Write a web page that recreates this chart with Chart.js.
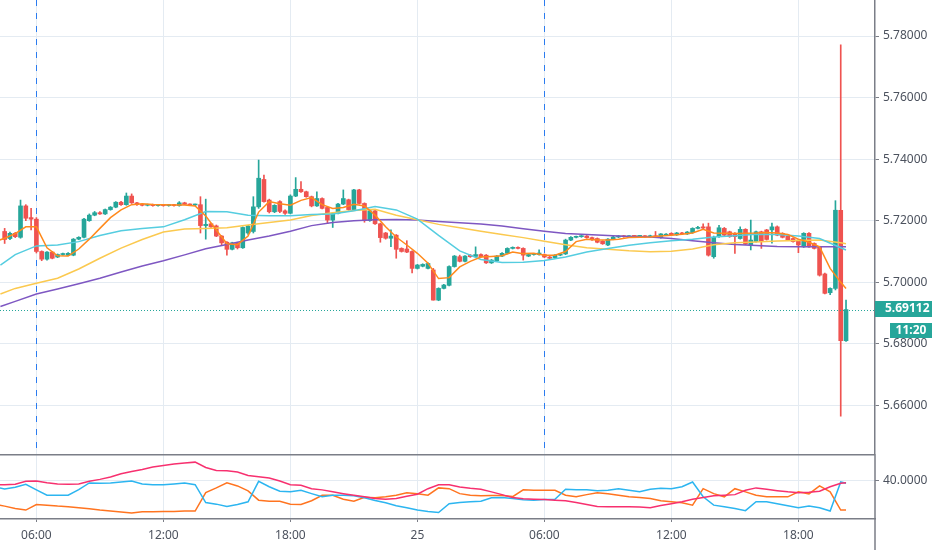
<!DOCTYPE html>
<html>
<head>
<meta charset="utf-8">
<script src="https://cdn.jsdelivr.net/npm/chart.js@4.4.1/dist/chart.umd.min.js"></script>
<style>
  html, body { margin: 0; padding: 0; background: #ffffff; }
  #wrap { position: relative; width: 932px; height: 550px; overflow: hidden; }
  #pricePane { position: absolute; left: 0; top: 0; width: 932px; height: 454px; }
  #oscPane { position: absolute; left: 0; top: 454px; width: 932px; height: 96px; }
</style>
</head>
<body>
<div id="wrap">
  <div id="pricePane"><canvas id="priceChart"></canvas></div>
  <div id="oscPane"><canvas id="oscChart"></canvas></div>
</div>
<script>
// 15 minute candles, hours counted from 00:00 of the 24th, first candle opens 04:30
const firstCandleHour = 4.5;
const candleStep = 0.25;

const candleOpen = [
  5.7165, 5.7142, 5.7159, 5.7146, 5.7248, 5.7210, 5.7205, 5.7100, 5.7075, 5.7098,
  5.7082, 5.7090, 5.7088, 5.7088, 5.7140, 5.7146, 5.7200, 5.7218, 5.7226, 5.7222,
  5.7236, 5.7244, 5.7260, 5.7252, 5.7280, 5.7258, 5.7253, 5.7250, 5.7252, 5.7249,
  5.7251, 5.7249, 5.7251, 5.7249, 5.7258, 5.7253, 5.7251, 5.7252, 5.7184, 5.7190,
  5.7183, 5.7150, 5.7130, 5.7107, 5.7128, 5.7112, 5.7160, 5.7165, 5.7245, 5.7334,
  5.7267, 5.7229, 5.7262, 5.7232, 5.7224, 5.7280, 5.7302, 5.7294, 5.7278, 5.7248,
  5.7272, 5.7243, 5.7202, 5.7224, 5.7254, 5.7268, 5.7236, 5.7300, 5.7256, 5.7200,
  5.7232, 5.7190, 5.7160, 5.7143, 5.7153, 5.7110, 5.7108, 5.7100, 5.7045, 5.7052,
  5.7045, 5.7040, 5.6942, 5.6980, 5.6990, 5.7051, 5.7083, 5.7068, 5.7088, 5.7084,
  5.7090, 5.7088, 5.7063, 5.7070, 5.7085, 5.7094, 5.7110, 5.7113, 5.7110, 5.7085,
  5.7090, 5.7090, 5.7090, 5.7082, 5.7080, 5.7088, 5.7092, 5.7137, 5.7146, 5.7148,
  5.7150, 5.7145, 5.7142, 5.7133, 5.7121, 5.7140, 5.7147, 5.7150, 5.7148, 5.7150,
  5.7149, 5.7150, 5.7148, 5.7151, 5.7145, 5.7153, 5.7159, 5.7154, 5.7160, 5.7157,
  5.7161, 5.7175, 5.7180, 5.7180, 5.7083, 5.7148, 5.7175, 5.7164, 5.7159, 5.7142,
  5.7172, 5.7121, 5.7132, 5.7164, 5.7170, 5.7170, 5.7180, 5.7159, 5.7150, 5.7142,
  5.7137, 5.7115, 5.7159, 5.7126, 5.7115, 5.7027, 5.6966, 5.6980, 5.7234, 5.6810
];
const candleHigh = [
  5.7175, 5.7163, 5.7162, 5.7267, 5.7252, 5.7240, 5.7210, 5.7102, 5.7100, 5.7100,
  5.7092, 5.7095, 5.7096, 5.7142, 5.7148, 5.7208, 5.7222, 5.7230, 5.7230, 5.7238,
  5.7246, 5.7262, 5.7263, 5.7290, 5.7287, 5.7260, 5.7255, 5.7254, 5.7254, 5.7253,
  5.7253, 5.7253, 5.7253, 5.7262, 5.7260, 5.7255, 5.7254, 5.7278, 5.7270, 5.7192,
  5.7186, 5.7152, 5.7132, 5.7130, 5.7130, 5.7180, 5.7185, 5.7278, 5.7397, 5.7348,
  5.7270, 5.7252, 5.7265, 5.7235, 5.7284, 5.7340, 5.7327, 5.7296, 5.7280, 5.7294,
  5.7274, 5.7245, 5.7226, 5.7256, 5.7300, 5.7270, 5.7302, 5.7302, 5.7258, 5.7234,
  5.7234, 5.7192, 5.7162, 5.7170, 5.7155, 5.7112, 5.7135, 5.7102, 5.7058, 5.7060,
  5.7063, 5.7045, 5.6982, 5.6993, 5.7053, 5.7087, 5.7088, 5.7087, 5.7090, 5.7115,
  5.7092, 5.7090, 5.7074, 5.7087, 5.7096, 5.7112, 5.7115, 5.7115, 5.7112, 5.7092,
  5.7094, 5.7105, 5.7092, 5.7084, 5.7090, 5.7094, 5.7140, 5.7148, 5.7150, 5.7152,
  5.7152, 5.7147, 5.7144, 5.7135, 5.7142, 5.7149, 5.7152, 5.7152, 5.7152, 5.7152,
  5.7152, 5.7152, 5.7153, 5.7165, 5.7158, 5.7158, 5.7161, 5.7162, 5.7162, 5.7165,
  5.7177, 5.7182, 5.7190, 5.7192, 5.7150, 5.7185, 5.7178, 5.7166, 5.7161, 5.7180,
  5.7174, 5.7202, 5.7166, 5.7166, 5.7172, 5.7192, 5.7183, 5.7161, 5.7152, 5.7144,
  5.7139, 5.7161, 5.7161, 5.7128, 5.7117, 5.7030, 5.6982, 5.7265, 5.7771, 5.6942
];
const candleLow = [
  5.7126, 5.7138, 5.7145, 5.7143, 5.7200, 5.7170, 5.7095, 5.7070, 5.7072, 5.7076,
  5.7080, 5.7088, 5.7086, 5.7086, 5.7138, 5.7144, 5.7198, 5.7216, 5.7220, 5.7220,
  5.7234, 5.7242, 5.7250, 5.7250, 5.7256, 5.7250, 5.7248, 5.7248, 5.7247, 5.7247,
  5.7247, 5.7247, 5.7247, 5.7247, 5.7252, 5.7250, 5.7249, 5.7160, 5.7140, 5.7178,
  5.7148, 5.7122, 5.7088, 5.7105, 5.7108, 5.7110, 5.7155, 5.7160, 5.7240, 5.7260,
  5.7225, 5.7226, 5.7226, 5.7220, 5.7222, 5.7278, 5.7292, 5.7276, 5.7245, 5.7246,
  5.7238, 5.7191, 5.7178, 5.7222, 5.7252, 5.7234, 5.7234, 5.7254, 5.7195, 5.7198,
  5.7188, 5.7130, 5.7140, 5.7116, 5.7078, 5.7098, 5.7096, 5.7030, 5.7043, 5.7050,
  5.7043, 5.6942, 5.6940, 5.6978, 5.6988, 5.7049, 5.7066, 5.7066, 5.7081, 5.7082,
  5.7081, 5.7061, 5.7061, 5.7068, 5.7083, 5.7092, 5.7108, 5.7108, 5.7072, 5.7083,
  5.7088, 5.7088, 5.7080, 5.7076, 5.7078, 5.7086, 5.7090, 5.7135, 5.7144, 5.7146,
  5.7143, 5.7136, 5.7128, 5.7123, 5.7119, 5.7138, 5.7145, 5.7146, 5.7146, 5.7147,
  5.7147, 5.7146, 5.7146, 5.7146, 5.7143, 5.7151, 5.7152, 5.7152, 5.7155, 5.7155,
  5.7159, 5.7173, 5.7174, 5.7085, 5.7078, 5.7146, 5.7150, 5.7146, 5.7094, 5.7140,
  5.7122, 5.7105, 5.7130, 5.7110, 5.7137, 5.7127, 5.7151, 5.7144, 5.7135, 5.7130,
  5.7096, 5.7113, 5.7113, 5.7108, 5.7020, 5.6962, 5.6960, 5.6975, 5.6565, 5.6808
];
const candleClose = [
  5.7139, 5.7159, 5.7148, 5.7248, 5.7208, 5.7205, 5.7100, 5.7075, 5.7098, 5.7078,
  5.7090, 5.7093, 5.7094, 5.7140, 5.7146, 5.7205, 5.7218, 5.7226, 5.7222, 5.7236,
  5.7244, 5.7260, 5.7252, 5.7280, 5.7258, 5.7252, 5.7250, 5.7252, 5.7249, 5.7251,
  5.7249, 5.7251, 5.7249, 5.7258, 5.7253, 5.7251, 5.7252, 5.7184, 5.7188, 5.7180,
  5.7150, 5.7128, 5.7107, 5.7128, 5.7112, 5.7178, 5.7183, 5.7245, 5.7338, 5.7262,
  5.7229, 5.7250, 5.7230, 5.7224, 5.7280, 5.7302, 5.7294, 5.7278, 5.7248, 5.7272,
  5.7240, 5.7202, 5.7224, 5.7254, 5.7272, 5.7236, 5.7300, 5.7256, 5.7200, 5.7232,
  5.7190, 5.7145, 5.7143, 5.7150, 5.7107, 5.7100, 5.7098, 5.7045, 5.7056, 5.7058,
  5.7061, 5.6942, 5.6980, 5.6991, 5.7051, 5.7085, 5.7068, 5.7085, 5.7083, 5.7090,
  5.7083, 5.7063, 5.7072, 5.7085, 5.7094, 5.7110, 5.7113, 5.7110, 5.7088, 5.7090,
  5.7092, 5.7095, 5.7082, 5.7078, 5.7088, 5.7092, 5.7137, 5.7146, 5.7148, 5.7150,
  5.7145, 5.7138, 5.7130, 5.7125, 5.7140, 5.7147, 5.7150, 5.7148, 5.7150, 5.7149,
  5.7150, 5.7148, 5.7151, 5.7148, 5.7157, 5.7156, 5.7154, 5.7160, 5.7157, 5.7163,
  5.7175, 5.7178, 5.7176, 5.7088, 5.7146, 5.7177, 5.7153, 5.7148, 5.7148, 5.7172,
  5.7124, 5.7137, 5.7164, 5.7132, 5.7139, 5.7180, 5.7153, 5.7146, 5.7137, 5.7132,
  5.7121, 5.7159, 5.7115, 5.7110, 5.7023, 5.6964, 5.6980, 5.7234, 5.6810, 5.69112
];

// moving averages
const slowHours = [4.3, 5, 6, 7, 8, 9, 10, 11, 12, 13, 14, 15, 16, 17, 18, 19, 20, 21, 22, 23,
  24, 25, 26, 27, 28, 29, 30, 31, 32, 33, 34, 35, 36, 37, 38, 39, 40, 41, 42, 43, 44, 44.25];
const maCyan = [
  5.7056, 5.7090, 5.7118, 5.7121, 5.7132, 5.7152, 5.7167, 5.7175, 5.7180, 5.7203,
  5.7230, 5.7229, 5.7218, 5.7216, 5.7216, 5.7220, 5.7222, 5.7232, 5.7246, 5.7235,
  5.7205, 5.7152, 5.7102, 5.7074, 5.7064, 5.7065, 5.7071, 5.7082, 5.7098, 5.7110,
  5.7120, 5.7128, 5.7135, 5.7140, 5.7147, 5.7151, 5.7156, 5.7155, 5.7150, 5.7142,
  5.7112, 5.7105
];
const maYellow = [
  5.6962, 5.6980, 5.6997, 5.7013, 5.7043, 5.7078, 5.7111, 5.7139, 5.7163, 5.7173,
  5.7175, 5.7177, 5.7186, 5.7194, 5.7202, 5.7217, 5.7226, 5.7233, 5.7237, 5.7218,
  5.7203, 5.7188, 5.7177, 5.7166, 5.7155, 5.7145, 5.7133, 5.7122, 5.7112, 5.7107,
  5.7102, 5.7099, 5.7101, 5.7108, 5.7122, 5.7128, 5.7131, 5.7134, 5.7136, 5.7137,
  5.7128, 5.7125
];
const maPurple = [
  5.6921, 5.6938, 5.6962, 5.6978, 5.6995, 5.7013, 5.7033, 5.7053, 5.7070, 5.7089,
  5.7109, 5.7123, 5.7137, 5.7150, 5.7166, 5.7184, 5.7194, 5.7200, 5.7203, 5.7204,
  5.7202, 5.7197, 5.7193, 5.7189, 5.7183, 5.7174, 5.7166, 5.7158, 5.7155, 5.7152,
  5.7149, 5.7147, 5.7142, 5.7135, 5.7128, 5.7123, 5.7119, 5.7116, 5.7115, 5.7115,
  5.7115, 5.7115
];

// half-hour readings: 04:15, 04:30, 05:00 ... 20:00 (25th), 20:15
const halfHours = [4.25, ...Array.from({ length: 80 }, (_, i) => 4.5 + i * 0.5), 44.25];
const maOrange = [
  5.7137, 5.7143, 5.7158, 5.7180, 5.7180, 5.7112, 5.7086, 5.7085, 5.7108, 5.7140,
  5.7175, 5.7210, 5.7235, 5.7252, 5.7255, 5.7253, 5.7252, 5.7251, 5.7251, 5.7248,
  5.7215, 5.7170, 5.7125, 5.7122, 5.7150, 5.7228, 5.7262, 5.7255, 5.7250, 5.7266,
  5.7275, 5.7252, 5.7240, 5.7243, 5.7253, 5.7248, 5.7218, 5.7180, 5.7147, 5.7121,
  5.7094, 5.7062, 5.7012, 5.7015, 5.7050, 5.7068, 5.7082, 5.7084, 5.7086, 5.7098,
  5.7093, 5.7094, 5.7088, 5.7088, 5.7100, 5.7132, 5.7140, 5.7137, 5.7137, 5.7140,
  5.7145, 5.7146, 5.7147, 5.7150, 5.7153, 5.7156, 5.7160, 5.7172, 5.7160, 5.7159,
  5.7158, 5.7159, 5.7160, 5.7162, 5.7160, 5.7155, 5.7140, 5.7130, 5.7115, 5.7045,
  5.7000, 5.6980
];

// lower pane oscillator lines
const oscPink = [
  37.8, 37.8, 38.0, 39.5, 39.7, 38.8, 38.2, 38.0, 38.2, 39.5,
  40.5, 41.7, 43.3, 44.5, 45.5, 46.7, 47.5, 48.2, 48.8, 49.2,
  46.5, 45.0, 44.8, 44.2, 42.5, 41.8, 41.2, 39.7, 37.8, 37.5,
  35.8, 35.2, 34.2, 33.3, 32.5, 31.7, 30.8, 30.5, 30.8, 32.0,
  33.0, 35.8, 37.8, 37.8, 36.7, 36.0, 35.5, 34.2, 32.8, 31.3,
  30.7, 30.5, 30.3, 30.0, 29.7, 28.8, 27.8, 26.8, 26.7, 26.7,
  26.7, 26.5, 26.2, 27.3, 28.2, 29.2, 30.5, 31.3, 32.2, 32.5,
  32.8, 35.0, 36.2, 35.5, 34.8, 34.2, 33.8, 34.0, 34.5, 36.8,
  38.5, 38.8
];
const oscBlue = [
  36.2, 35.7, 36.5, 38.0, 35.2, 32.5, 32.5, 32.5, 35.3, 38.7,
  38.5, 38.7, 39.2, 39.7, 38.2, 37.8, 37.8, 38.2, 38.7, 37.8,
  28.8, 28.0, 26.8, 27.8, 29.2, 39.5, 36.8, 34.5, 34.2, 35.0,
  33.3, 31.7, 32.5, 32.5, 32.2, 31.2, 29.8, 28.7, 27.2, 26.2,
  25.0, 24.3, 23.8, 28.2, 28.8, 29.2, 29.5, 31.2, 31.3, 30.8,
  30.2, 30.0, 30.3, 30.5, 35.5, 35.2, 35.3, 34.7, 35.0, 35.8,
  35.0, 34.3, 35.5, 36.0, 35.8, 36.8, 39.2, 31.7, 27.5, 26.7,
  25.8, 24.7, 29.2, 29.2, 28.2, 27.2, 26.2, 27.0, 26.2, 24.5,
  39.2, 38.5
];
const oscOrange = [
  27.5, 27.0, 25.8, 25.0, 27.8, 27.5, 27.0, 26.7, 26.2, 25.7,
  25.0, 24.5, 24.0, 23.5, 24.2, 24.2, 24.3, 24.3, 24.5, 24.5,
  33.8, 36.2, 38.8, 37.2, 34.7, 30.0, 29.5, 29.5, 28.0, 27.8,
  29.7, 32.5, 32.5, 30.5, 29.5, 31.5, 31.2, 31.7, 32.5, 33.7,
  33.3, 32.5, 36.2, 35.8, 33.3, 32.5, 32.2, 32.3, 32.3, 31.8,
  35.2, 35.0, 35.0, 35.0, 32.5, 31.7, 32.8, 33.8, 33.3, 32.5,
  31.7, 31.3, 30.8, 29.7, 29.2, 28.7, 27.5, 35.8, 33.3, 31.7,
  35.8, 34.2, 32.5, 31.7, 31.7, 31.7, 34.2, 33.2, 37.2, 34.2,
  25.0, 25.0
];

const timeTickHours = [6, 12, 18, 24, 30, 36, 42];
const timeTickLabels = ['06:00', '12:00', '18:00', '25', '06:00', '12:00', '18:00'];
const sessionStartHours = [6, 30];
const priceTicks = [5.66, 5.68, 5.70, 5.72, 5.74, 5.76, 5.78];
const oscTicks = [40];
const countdownText = '11:20';

const UP = '#26a69a';
const DOWN = '#ef5350';
const GRID = '#e4ebf2';
const AXIS = '#7b7e87';
const TEXT = '#4c525e';
const SESSION = '#2b7cf0';

Chart.defaults.font.family = "'Noto Sans', 'DejaVu Sans', sans-serif";
Chart.defaults.font.size = 12;
Chart.defaults.color = TEXT;

const candleHours = candleOpen.map((_, i) => firstCandleHour + i * candleStep);
const candleColors = candleClose.map((c, i) => c >= candleOpen[i] ? UP : DOWN);
const wickData = candleHours.map((h, i) => ({ x: h, y: [candleLow[i], candleHigh[i]] }));
const bodyData = candleHours.map((h, i) => ({ x: h, y: [candleOpen[i], candleClose[i]] }));
const lastClose = candleClose[candleClose.length - 1];

function points(xs, ys) {
    return ys.map((v, i) => ({ x: xs[i], y: v }));
}

function lineSet(xs, ys, color, order) {
    return {
        type: 'line',
        data: points(xs, ys),
        borderColor: color,
        borderWidth: 1.5,
        pointRadius: 0,
        tension: 0,
        order: order
    };
}

function noPad(s) {
    s.paddingTop = 0; s.paddingBottom = 0; s.paddingLeft = 0; s.paddingRight = 0;
}

const xRange = { min: 4.2803, max: 45.619 };

// dashed blue lines where a new session starts
const sessionLines = {
    id: 'sessionLines',
    beforeDatasetsDraw(chart) {
        const { ctx, chartArea: a, scales: { x } } = chart;
        sessionStartHours.forEach(h => {
            const px = Math.floor(x.getPixelForValue(h)) + 0.5;
            ctx.save();
            ctx.beginPath();
            ctx.strokeStyle = SESSION;
            ctx.lineWidth = 1;
            ctx.setLineDash([6, 7]);
            ctx.moveTo(px, a.top);
            ctx.lineTo(px, a.bottom);
            ctx.stroke();
            ctx.restore();
        });
    }
};

// dotted last price line and the two labels on the price axis
const lastPrice = {
    id: 'lastPrice',
    afterDatasetsDraw(chart) {
        const { ctx, chartArea: a, scales: { y } } = chart;
        const py = Math.round(y.getPixelForValue(lastClose)) + 0.5;
        ctx.save();
        ctx.strokeStyle = UP;
        ctx.lineWidth = 1;
        ctx.setLineDash([1, 2]);
        ctx.beginPath();
        ctx.moveTo(a.left, py);
        ctx.lineTo(a.right, py);
        ctx.stroke();
        ctx.restore();
    },
    afterDraw(chart) {
        const { ctx, chartArea: a, scales: { y } } = chart;
        const py = Math.round(y.getPixelForValue(lastClose));
        const w = chart.width;
        ctx.save();
        ctx.fillStyle = UP;
        ctx.fillRect(a.right, py - 9, w - a.right, 16);
        ctx.fillRect(a.right + 15, py + 13, w - a.right - 15, 15);
        ctx.fillStyle = '#ffffff';
        ctx.font = "bold 12px 'Noto Sans', sans-serif";
        ctx.textBaseline = 'middle';
        ctx.textAlign = 'left';
        ctx.fillText(lastClose.toFixed(5), a.right + 10, py - 1);
        ctx.textAlign = 'center';
        ctx.fillText(countdownText, (a.right + 15 + w) / 2, py + 20.5);
        ctx.restore();
    }
};

// pane separator and full height price axis line
const paneFrame = {
    id: 'paneFrame',
    afterDraw(chart) {
        const { ctx, chartArea: a } = chart;
        ctx.save();
        ctx.strokeStyle = AXIS;
        ctx.lineWidth = 1.5;
        ctx.beginPath();
        ctx.moveTo(0, 0.75);
        ctx.lineTo(a.right, 0.75);
        ctx.moveTo(a.right, 0);
        ctx.lineTo(a.right, chart.height);
        ctx.stroke();
        ctx.restore();
    }
};

new Chart(document.getElementById('priceChart'), {
    type: 'bar',
    data: {
        datasets: [
            lineSet(halfHours, maOrange, '#ff8a1c', 0),
            lineSet(slowHours, maCyan, '#55cde0', 1),
            lineSet(slowHours, maYellow, '#fbc94f', 2),
            lineSet(slowHours, maPurple, '#7e57c2', 3),
            {
                type: 'bar',
                data: bodyData,
                backgroundColor: candleColors,
                barThickness: 4,
                minBarLength: 1,
                grouped: false,
                order: 10
            },
            {
                type: 'bar',
                data: wickData,
                backgroundColor: candleColors,
                barThickness: 1,
                grouped: false,
                order: 11
            }
        ]
    },
    options: {
        responsive: true,
        maintainAspectRatio: false,
        animation: false,
        events: [],
        layout: { padding: 0 },
        plugins: { legend: { display: false }, tooltip: { enabled: false } },
        scales: {
            x: {
                type: 'linear', min: xRange.min, max: xRange.max, offset: false,
                grid: { color: GRID, drawTicks: false, offset: false },
                border: { display: false },
                ticks: { display: false },
                afterBuildTicks: s => { s.ticks = timeTickHours.map(v => ({ value: v })); },
                afterFit: s => { s.height = 0; noPad(s); }
            },
            y: {
                position: 'right', min: 5.6442, max: 5.7917,
                grid: { color: GRID, tickColor: AXIS, tickLength: 4 },
                border: { color: AXIS, width: 1.5 },
                ticks: { padding: 4, color: TEXT, callback: v => v.toFixed(5) },
                afterBuildTicks: s => { s.ticks = priceTicks.map(v => ({ value: v })); },
                afterFit: s => { s.width = 57; noPad(s); }
            }
        }
    },
    plugins: [sessionLines, lastPrice]
});

new Chart(document.getElementById('oscChart'), {
    type: 'line',
    data: {
        datasets: [
            lineSet(halfHours, oscPink, '#f7306f', 0),
            lineSet(halfHours, oscBlue, '#2cb5f0', 1),
            lineSet(halfHours, oscOrange, '#ff7420', 2)
        ]
    },
    options: {
        responsive: true,
        maintainAspectRatio: false,
        animation: false,
        events: [],
        layout: { padding: { top: 1 } },
        plugins: { legend: { display: false }, tooltip: { enabled: false } },
        scales: {
            x: {
                type: 'linear', min: xRange.min, max: xRange.max, offset: false,
                grid: { color: GRID, tickColor: AXIS, tickLength: 3 },
                border: { color: AXIS, width: 1.5 },
                ticks: {
                    padding: 6, maxRotation: 0, autoSkip: false, color: TEXT,
                    callback: v => timeTickLabels[timeTickHours.indexOf(v)] ?? ''
                },
                afterBuildTicks: s => { s.ticks = timeTickHours.map(v => ({ value: v })); },
                afterFit: s => { s.height = 31; noPad(s); }
            },
            y: {
                position: 'right', min: 20.5, max: 52.8,
                grid: { color: GRID, tickColor: AXIS, tickLength: 4 },
                border: { display: false },
                ticks: { padding: 4, color: TEXT, callback: v => v.toFixed(4) },
                afterBuildTicks: s => { s.ticks = oscTicks.map(v => ({ value: v })); },
                afterFit: s => { s.width = 57; noPad(s); }
            }
        }
    },
    plugins: [paneFrame]
});
</script>
</body>
</html>
